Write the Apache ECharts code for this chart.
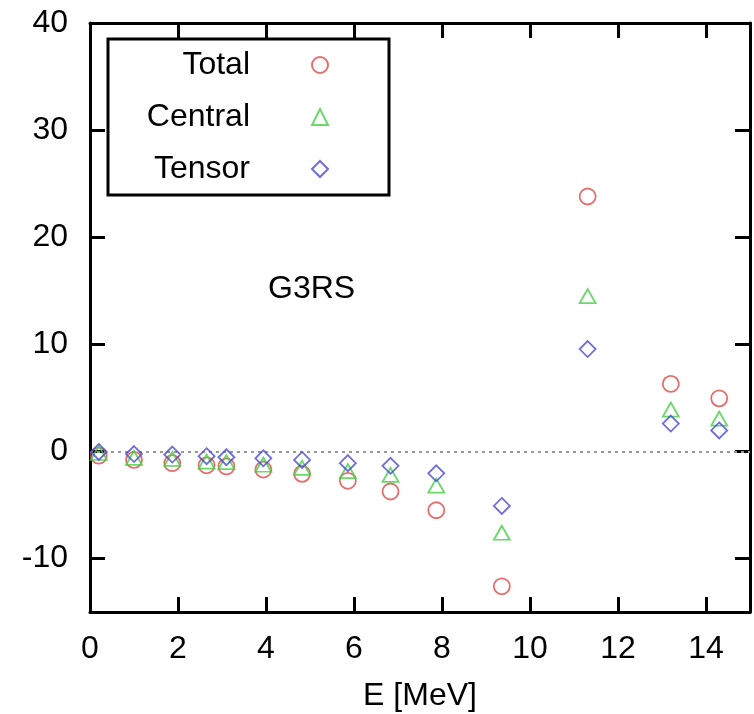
<!DOCTYPE html>
<html>
<head>
<meta charset="utf-8">
<script src="https://cdn.jsdelivr.net/npm/echarts@6/dist/echarts.min.js"></script>
<style>
  html, body { margin: 0; padding: 0; background: #fff; }
  #main { width: 754px; height: 714px; }
</style>
</head>
<body>
<div id="main"></div>
<script>
// energies (MeV)
const energies = [0.2, 1.0, 1.87, 2.65, 3.1, 3.94, 4.82, 5.86, 6.83, 7.87, 9.36, 11.31, 13.2, 14.3];
const totalValues = [-0.4, -0.8, -1.1, -1.3, -1.4, -1.7, -2.1, -2.75, -3.75, -5.5, -12.6, 23.8, 6.3, 4.95];
const centralValues = [-0.15, -0.6, -0.7, -0.95, -1.0, -1.25, -1.55, -1.85, -2.2, -3.2, -7.6, 14.5, 3.9, 3.05];
const tensorValues = [-0.05, -0.25, -0.3, -0.45, -0.55, -0.65, -0.8, -1.1, -1.35, -2.05, -5.1, 9.55, 2.6, 1.95];
const xTicks = [0, 2, 4, 6, 8, 10, 12, 14];
const yTicks = [-10, 0, 10, 20, 30, 40];

const FONT = "'Liberation Sans', Arial, sans-serif";
const RED = '#e04a4a';
const GREEN = '#45d045';
const BLUE = '#4a4ad0';

const pairs = (vals) => energies.map((e, i) => [e, vals[i]]);

const frameLine = { show: true, onZero: false, lineStyle: { color: '#000', width: 3 } };
const tick = (vals) => ({
  show: true, inside: true, length: 15, customValues: vals,
  lineStyle: { color: '#000', width: 3 }
});

const chart = echarts.init(document.getElementById('main'));

const scatter = (name, vals, symbol, size, color) => ({
  name,
  type: 'scatter',
  data: pairs(vals),
  symbol,
  symbolSize: size,
  itemStyle: { color: 'rgba(255,255,255,0)', borderColor: color, borderWidth: 1.8 },
  emphasis: { disabled: true },
  z: 3
});

const totalSeries = scatter('Total', totalValues, 'circle', 16, RED);
totalSeries.markLine = {
  silent: true,
  symbol: ['none', 'none'],
  label: { show: false },
  lineStyle: { color: '#999', type: [3, 4], width: 2 },
  data: [{ yAxis: 0 }],
  z: 1
};

chart.setOption({
  animation: false,
  textStyle: { fontFamily: FONT },
  grid: { left: 90, right: 4, top: 23, bottom: 102, outerBoundsMode: 'none', containLabel: false },
  legend: {
    data: ['Total', 'Central', 'Tensor'],
    orient: 'vertical',
    left: 108,
    top: 39,
    align: 'right',
    itemWidth: 16,
    itemHeight: 16,
    itemGap: 20,
    padding: [10, 60, 10, 10],
    borderColor: '#000',
    borderWidth: 3,
    selectedMode: false,
    textStyle: {
      fontFamily: FONT, fontSize: 32, color: '#000',
      width: 132, align: 'right', lineHeight: 31,
      padding: [0, 57, 0, 0]
    }
  },
  xAxis: [
    {
      type: 'value', min: 0, max: 15, position: 'bottom',
      axisLine: frameLine,
      axisTick: tick(xTicks),
      axisLabel: { customValues: xTicks, fontSize: 32, color: '#000', margin: 21, fontFamily: FONT },
      splitLine: { show: false },
      name: 'E [MeV]',
      nameLocation: 'middle',
      nameGap: 68,
      nameTextStyle: { fontSize: 32, color: '#000', fontFamily: FONT }
    },
    {
      type: 'value', min: 0, max: 15, position: 'top',
      axisLine: frameLine,
      axisTick: tick(xTicks),
      axisLabel: { show: false },
      splitLine: { show: false }
    }
  ],
  yAxis: [
    {
      type: 'value', min: -15, max: 40, position: 'left',
      axisLine: frameLine,
      axisTick: tick(yTicks),
      axisLabel: { customValues: yTicks, fontSize: 32, color: '#000', margin: 22, fontFamily: FONT },
      splitLine: { show: false }
    },
    {
      type: 'value', min: -15, max: 40, position: 'right',
      axisLine: frameLine,
      axisTick: tick(yTicks),
      axisLabel: { show: false },
      splitLine: { show: false }
    }
  ],
  graphic: [
    {
      type: 'text',
      left: 268,
      top: 273,
      style: { text: 'G3RS', font: '32px ' + FONT, fill: '#000' }
    }
  ],
  series: [
    totalSeries,
    scatter('Central', centralValues, 'triangle', [16, 14], GREEN),
    scatter('Tensor', tensorValues, 'diamond', 16, BLUE)
  ]
});
</script>
</body>
</html>
